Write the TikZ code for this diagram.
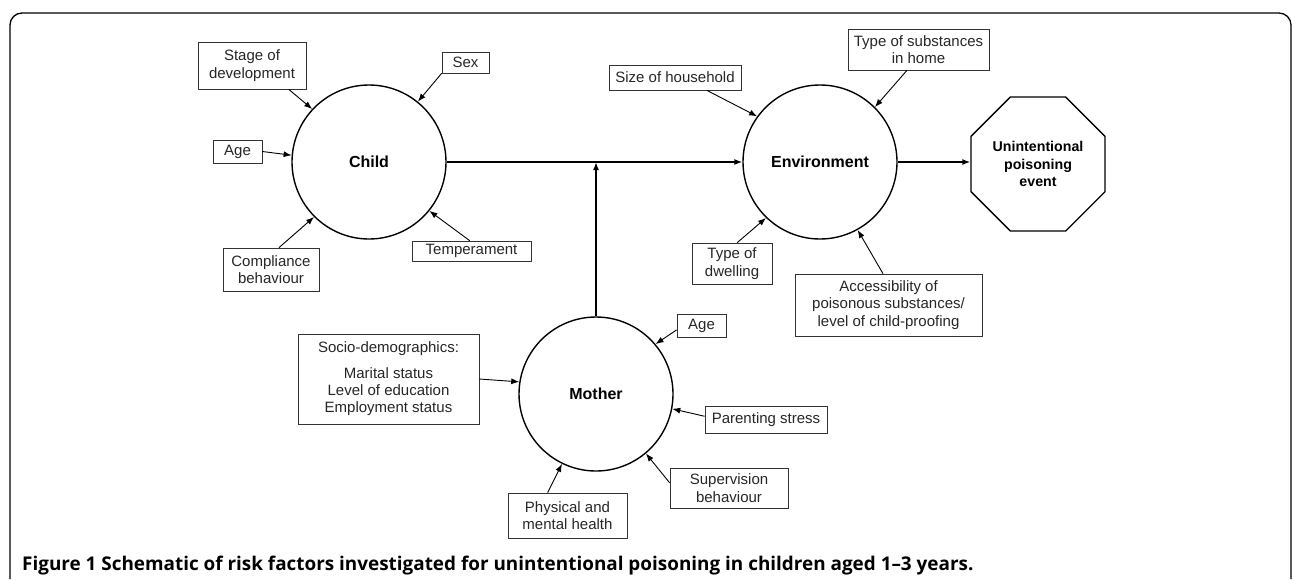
\documentclass[tikz,border=0pt]{standalone}
\usepackage{fontspec}
\setmainfont{Liberation Sans}
\newfontfamily\capfont{Open Sans}
\usetikzlibrary{arrows.meta,shapes.geometric,positioning}

\begin{document}
\begin{tikzpicture}[x=1pt,y=-1pt,>={Latex[length=8pt,width=6pt]},
    factor/.style={draw=black!80,line width=0.7pt,align=center,inner sep=0pt,text=black!85,
      font=\fontsize{15}{17.3}\selectfont},
    hub/.style={circle,draw,line width=1.4pt,minimum size=154pt,inner sep=0pt,
      font=\fontsize{16}{19}\selectfont\bfseries},
    link/.style={line width=0.9pt}]
  \useasboundingbox (0,0) rectangle (1292,579);
  \draw[line width=1.3pt,rounded corners=12pt] (10,579) -- (10,13) -- (1291,13) -- (1291,579);

  \node[hub] (child) at (369,162) {Child};
  \node[hub] (env) at (820,162) {Environment};
  \node[hub] (mother) at (596,394) {Mother};
  \node[regular polygon,regular polygon sides=8,draw,line width=1.4pt,minimum size=145pt,
    inner sep=0pt,align=center,font=\fontsize{14.2}{17.3}\selectfont\bfseries]
    (event) at (1038,164) {Unintentional\\poisoning\\event};

  \node[factor,minimum width=108pt,minimum height=47pt] (stage) at (252,65.5) {Stage of\\development};
  \node[factor,minimum width=47pt,minimum height=21pt] (sex) at (465.5,62.5) {Sex};
  \node[factor,minimum width=49pt,minimum height=23pt] (age) at (237.5,151.5) {Age};
  \node[factor,minimum width=96pt,minimum height=43pt] (compl) at (271,269.5) {Compliance\\behaviour};
  \node[factor,minimum width=119pt,minimum height=20pt] (temper) at (471.5,251) {Temperament};
  \node[factor,minimum width=132pt,minimum height=25pt] (size) at (675,77.5) {Size of household};
  \node[factor,minimum width=141pt,minimum height=41pt] (subst) at (918.5,49.5) {Type of substances\\in home};
  \node[factor,minimum width=80pt,minimum height=41pt] (dwell) at (732,263.5) {Type of\\dwelling};
  \node[factor,minimum width=187pt,minimum height=62pt] (access) at (888.5,305)
    {Accessibility of\\poisonous substances/\\level of child-proofing};
  \node[factor,minimum width=49pt,minimum height=23pt] (mage) at (701.5,325.5) {Age};
  \node[factor,minimum width=181pt,minimum height=90pt] (socio) at (388.5,379)
    {Socio-demographics:\\[8pt]Marital status\\Level of education\\Employment status};
  \node[factor,minimum width=122pt,minimum height=27pt] (stress) at (766,419.5) {Parenting stress};
  \node[factor,minimum width=118pt,minimum height=40pt] (superv) at (729,488) {Supervision\\behaviour};
  \node[factor,minimum width=119pt,minimum height=45pt] (health) at (567.5,515.5) {Physical and\\mental health};

  \path[->,link]
    (stage.-33) edge (child.137)
    (sex.south west) edge (child.51)
    (age.east) edge (child.175)
    (compl.70) edge (child.225)
    (temper.100) edge (child.321)
    (size.-22) edge (env.144)
    (subst.241) edge (env.45)
    (dwell.76) edge (env.226)
    (access.100) edge (env.299)
    (mage.190) edge (mother.40)
    (socio.east) edge (mother.171)
    (stress.177) edge (mother.349)
    (superv.175) edge (mother.310)
    (health.131) edge (mother.244);

  \draw[->,line width=1.4pt] (child) -- (env);
  \draw[->,line width=1.8pt] (mother) -- (mother |- child.east);
  \draw[->,line width=1.4pt] (env.east) -- (env.east -| event.west);

  \node[anchor=base west,inner sep=0pt,font=\capfont\bfseries\fontsize{18.9}{22}\selectfont]
    (caption) at (22,570) {Figure 1 Schematic of risk factors investigated for unintentional poisoning in children aged 1–3 years.};
\end{tikzpicture}
\end{document}
